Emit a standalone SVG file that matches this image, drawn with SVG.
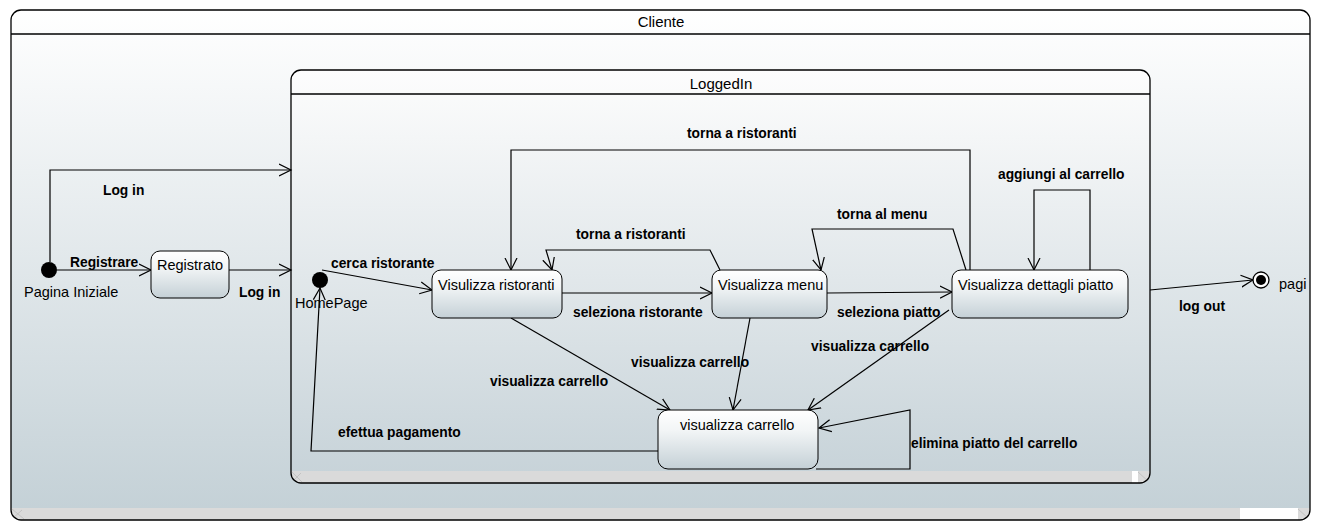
<svg xmlns="http://www.w3.org/2000/svg" width="1321" height="531" viewBox="0 0 1321 531">
<style>
.frame{stroke:#000;stroke-width:1.3}
.node{fill:url(#ng);stroke:#000;stroke-width:1}
.ttl{font-family:"Liberation Sans",Arial,sans-serif;font-size:15px;fill:#000}
.nl{font-family:"Liberation Sans",Arial,sans-serif;font-size:14.5px;fill:#000}
.tl{font-family:"Liberation Sans",Arial,sans-serif;font-size:13.8px;font-weight:bold;fill:#000}
.c{fill:none;stroke:#000;stroke-width:1.2;marker-end:url(#arr)}
.strip{fill:#dadada}
</style>
<defs>
<linearGradient id="fg" x1="0" y1="0" x2="0" y2="1">
<stop offset="0" stop-color="#ffffff"/>
<stop offset="1" stop-color="#c3d0d6"/>
</linearGradient>
<linearGradient id="fg2" x1="0" y1="0" x2="0" y2="1">
<stop offset="0" stop-color="#fdfdfd"/>
<stop offset="1" stop-color="#c6d2d8"/>
</linearGradient>
<linearGradient id="ng" x1="0" y1="0" x2="0" y2="1">
<stop offset="0" stop-color="#ffffff"/>
<stop offset="0.35" stop-color="#f2f5f6"/>
<stop offset="1" stop-color="#c4d0d6"/>
</linearGradient>
<marker id="arr" markerUnits="userSpaceOnUse" markerWidth="14" markerHeight="14" refX="12" refY="6" orient="auto" viewBox="0 0 14 12">
<path d="M0,0 L12,6 L0,12" fill="none" stroke="#000" stroke-width="1.2"/>
</marker>
<clipPath id="outerClip"><rect x="11" y="10" width="1299" height="510" rx="10"/></clipPath>
<clipPath id="innerClip"><rect x="291" y="70" width="859" height="413" rx="10"/></clipPath>
</defs>
<rect width="1321" height="531" fill="#fff"/>

<g id="Cliente">
<rect x="11" y="10" width="1299" height="510" rx="10" fill="url(#fg)"/>
<g clip-path="url(#outerClip)">
<rect class="strip" x="11" y="508" width="1299" height="12"/>
<rect x="1240" y="508" width="58" height="12" fill="#fff"/>
<path d="M12,509 L24,519 M12,519 L22,510 M1298,509 L1309,519" stroke="#bcbcbc" stroke-width="0.8"/>
</g>
<rect class="frame" x="11" y="10" width="1299" height="510" rx="10" fill="none"/>
<line class="frame" x1="11" y1="34" x2="1310" y2="34"/>
<text class="ttl" x="661" y="27" text-anchor="middle">Cliente</text>
</g>

<g id="LoggedIn">
<rect x="291" y="70" width="859" height="413" rx="10" fill="url(#fg2)"/>
<g clip-path="url(#innerClip)">
<rect class="strip" x="291" y="471" width="859" height="12"/>
<rect x="1132" y="471" width="6" height="12" fill="#fff"/>
<path d="M292,472 L302,482 M292,482 L301,473 M1138,472 L1149,482" stroke="#bcbcbc" stroke-width="0.8"/>
</g>
<rect class="frame" x="291" y="70" width="859" height="413" rx="10" fill="none"/>
<line class="frame" x1="291" y1="94" x2="1150" y2="94"/>
<text class="ttl" x="721" y="89" text-anchor="middle">LoggedIn</text>
</g>

<g id="connectors">
<path class="c" d="M50,262 L50,170 L291,170"/>
<path class="c" d="M57,270 L151,270"/>
<path class="c" d="M229,270 L291,270"/>
<path class="c" d="M322,270 L432,290"/>
<path class="c" d="M562,293 L712,293"/>
<path class="c" d="M827,293 L952,292"/>
<path class="c" d="M720,270 L710,250 L546,250 L552,270"/>
<path class="c" d="M970,270 L970,150 L511,150 L511,270"/>
<path class="c" d="M966,270 L953,229 L812,229 L821,270"/>
<path class="c" d="M1090,270 L1090,190 L1034,190 L1034,270"/>
<path class="c" d="M1150,290 L1253,280"/>
<path class="c" d="M511,318 L670,410"/>
<path class="c" d="M750,318 L733,410"/>
<path class="c" d="M949,310 L808,410"/>
<path class="c" d="M816,469 L910,469 L910,410 L819,428"/>
<path class="c" d="M658,451 L311,451 L320,288"/>
<text class="tl" x="103" y="195">Log in</text>
<text class="tl" x="70" y="267">Registrare</text>
<text class="tl" x="239" y="297">Log in</text>
<text class="tl" x="331" y="268">cerca ristorante</text>
<text class="tl" x="573" y="317">seleziona ristorante</text>
<text class="tl" x="837" y="317">seleziona piatto</text>
<text class="tl" x="576" y="239">torna a ristoranti</text>
<text class="tl" x="687" y="138">torna a ristoranti</text>
<text class="tl" x="837" y="219">torna al menu</text>
<text class="tl" x="998" y="179">aggiungi al carrello</text>
<text class="tl" x="1179" y="311">log out</text>
<text class="tl" x="490" y="386">visualizza carrello</text>
<text class="tl" x="631" y="367">visualizza carrello</text>
<text class="tl" x="811" y="351">visualizza carrello</text>
<text class="tl" x="338" y="437">efettua pagamento</text>
<text class="tl" x="911" y="448">elimina piatto del carrello</text>
</g>

<g id="PaginaIniziale">
<circle cx="49" cy="270" r="8" fill="#000"/>
<text class="nl" x="24" y="297">Pagina Iniziale</text>
</g>

<g id="Registrato">
<rect class="node" x="151" y="251" width="78" height="47" rx="9"/>
<text class="nl" x="157" y="270">Registrato</text>
</g>

<g id="HomePage">
<circle cx="320" cy="280" r="8" fill="#000"/>
<text class="nl" x="295" y="308">HomePage</text>
</g>

<g id="VisulizzaRistoranti">
<rect class="node" x="432" y="270" width="130" height="48" rx="9"/>
<text class="nl" x="438" y="290">Visulizza ristoranti</text>
</g>

<g id="VisualizzaMenu">
<rect class="node" x="712" y="270" width="115" height="48" rx="9"/>
<text class="nl" x="718" y="290">Visualizza menu</text>
</g>

<g id="VisualizzaDettagliPiatto">
<rect class="node" x="952" y="270" width="176" height="48" rx="9"/>
<text class="nl" x="958" y="290">Visualizza dettagli piatto</text>
</g>

<g id="VisualizzaCarrello">
<rect class="node" x="658" y="410" width="160" height="59" rx="10"/>
<text class="nl" x="680" y="430">visualizza carrello</text>
</g>

<g id="PaginaFinale">
<circle cx="1261" cy="280" r="8" fill="#fff" stroke="#000" stroke-width="1.3"/>
<circle cx="1261" cy="280" r="5" fill="#000"/>
<text class="nl" x="1279" y="289">pagi</text>
</g>
</svg>
